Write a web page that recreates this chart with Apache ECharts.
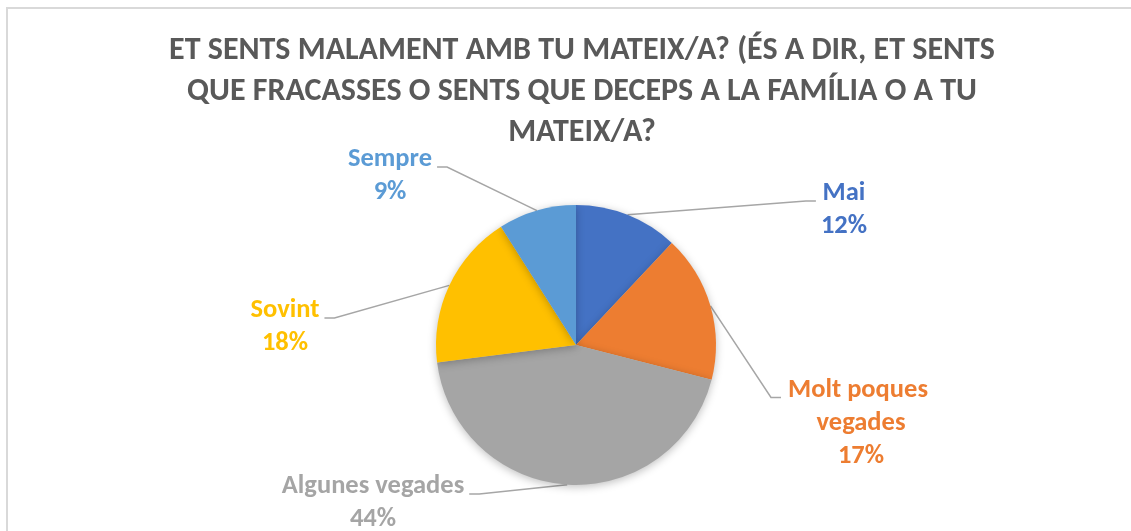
<!DOCTYPE html>
<html>
<head>
<meta charset="utf-8">
<script src="https://cdn.jsdelivr.net/npm/echarts@6/dist/echarts.min.js"></script>
<style>
html,body{margin:0;padding:0;background:#fff;}
#chart{width:1131px;height:531px;}
</style>
</head>
<body>
<div id="chart"></div>
<script>
// ---- data ----
const titleText = 'ET SENTS MALAMENT AMB TU MATEIX/A? (ÉS A DIR, ET SENTS\nQUE FRACASSES O SENTS QUE DECEPS A LA FAMÍLIA O A TU\nMATEIX/A?';
const categories = ['Mai', 'Molt poques vegades', 'Algunes vegades', 'Sovint', 'Sempre'];
const values = [12, 17, 44, 18, 9];
const colors = ['#4472C4', '#ED7D31', '#A5A5A5', '#FFC000', '#5B9BD5'];

// ---- layout (label block centres, side the leader line attaches) ----
const labelPos = [[844, 210], [861, 423], [373, 503], [285, 327], [390, 176]];
const labelSide = [1, 1, -1, -1, -1];

const FONT = 'Carlito, Lato, sans-serif';
const chart = echarts.init(document.getElementById('chart'));

const seriesData = categories.map((name, i) => {
  const item = {
    name: name,
    value: values[i],
    itemStyle: { color: colors[i] },
    label: { color: colors[i] }
  };
  if (name === 'Molt poques vegades') {
    item.label.width = 150;
    item.label.overflow = 'break';
  }
  return item;
});

chart.setOption({
  backgroundColor: '#ffffff',
  animation: false,
  title: {
    text: titleText,
    left: 577,
    top: 25,
    textAlign: 'center',
    textStyle: {
      fontFamily: FONT,
      fontSize: 32,
      fontWeight: 'bold',
      color: '#595959',
      lineHeight: 41
    }
  },
  graphic: [{
    type: 'rect',
    shape: { x: 7, y: 8, width: 1200, height: 600 },
    style: { fill: 'none', stroke: '#d9d9d9', lineWidth: 2 },
    silent: true
  }],
  series: [{
    type: 'pie',
    center: [576, 345],
    radius: 140,
    startAngle: 90,
    clockwise: true,
    avoidLabelOverlap: false,
    percentPrecision: 0,
    itemStyle: {
      borderWidth: 0,
      shadowBlur: 8,
      shadowOffsetY: 2,
      shadowColor: 'rgba(0,0,0,0.25)'
    },
    label: {
      show: true,
      position: 'outside',
      formatter: '{b}\n{d}%',
      fontFamily: FONT,
      fontSize: 26.5,
      fontWeight: 'bold',
      lineHeight: 33,
      align: 'center'
    },
    labelLine: {
      show: true,
      smooth: false,
      lineStyle: { color: '#a6a6a6', width: 1.5 }
    },
    labelLayout: function (p) {
      const i = p.dataIndex;
      const w = p.labelRect.width, h = p.labelRect.height;
      const cx = labelPos[i][0], cy = labelPos[i][1];
      const left = cx - w / 2, top = cy - h / 2;
      const ey = top + 24;
      const ex = labelSide[i] > 0 ? left - 5 : left + w + 5;
      const bx = labelSide[i] > 0 ? ex - 10 : ex + 10;
      const pts = p.labelLinePoints;
      return {
        x: cx, y: cy, align: 'center', verticalAlign: 'middle',
        labelLinePoints: [pts[0], [bx, ey], [ex, ey]]
      };
    },
    data: seriesData
  }]
});
</script>
</body>
</html>
